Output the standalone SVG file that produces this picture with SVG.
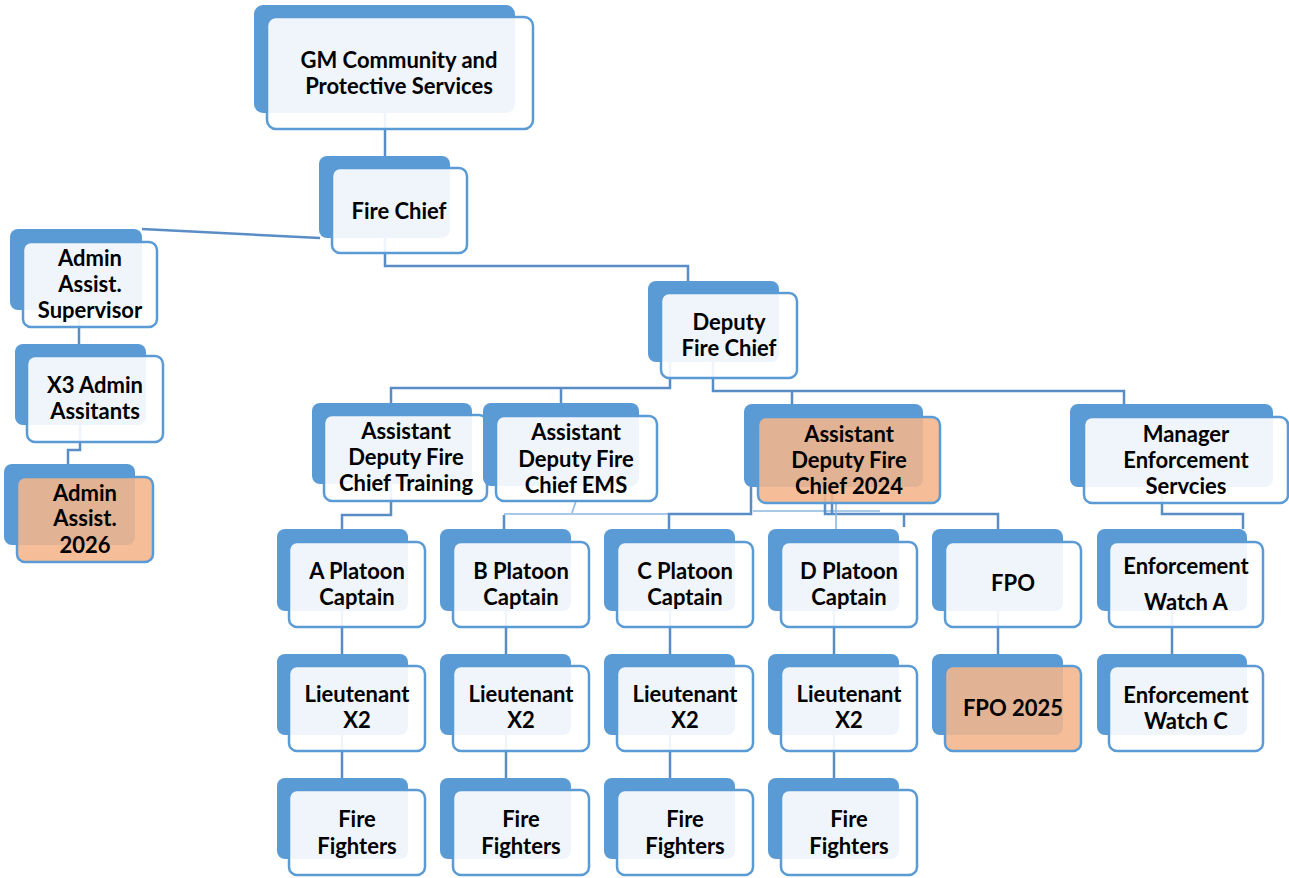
<svg xmlns="http://www.w3.org/2000/svg" width="1289" height="878" viewBox="0 0 1289 878">
<style>
.bk{fill:#5B9BD5}
.fr{fill:#FFFFFF;fill-opacity:0.9;stroke:#5B9BD5;stroke-width:2.5}
.fo{fill:#F4B58A;fill-opacity:0.88;stroke:#5B9BD5;stroke-width:2.5}
.t{font-family:Lato,"Liberation Sans",sans-serif;font-weight:bold;font-size:22px;fill:#000;text-anchor:middle}
.c{fill:none;stroke:#5A8DC6;stroke-width:2.5}
.cl{fill:none;stroke:#8DB7E2;stroke-width:1.6}
</style>
<rect width="1289" height="878" fill="#FFFFFF"/>
<g id="connectors">
<path class="c" d="M385,100 V156"/>
<path class="c" d="M385,230 V266 H688 V281"/>
<path class="c" d="M142,229 L320,238"/>
<path class="c" d="M79,300 V344"/>
<path class="c" d="M80,420 V450 H68 V464"/>
<path class="c" d="M670,350 V388 H391 V403"/>
<path class="c" d="M561,388 V403"/>
<path class="c" d="M713,350 V391 H1124 V404"/>
<path class="c" d="M792,391 V404"/>
<path class="c" d="M391,480 V515 H342 V529"/>
<path class="c" d="M504,515 V529"/>
<path class="cl" d="M504,514 H669"/>
<path class="cl" d="M576,501 L572,513"/>
<path class="cl" d="M753,511 H880"/>
<path class="c" d="M751,480 V514 H669 V529"/>
<path class="c" d="M825,480 V514 H998 V529"/>
<path class="c" d="M832,480 V514"/>
<path class="c" d="M904,514 V527"/>
<path class="cl" d="M836,500 V545"/>
<path class="c" d="M1162,490 V514 H1243 V529"/>
<path class="c" d="M342,600 V654"/>
<path class="c" d="M506,600 V654"/>
<path class="c" d="M670,600 V654"/>
<path class="c" d="M834,600 V654"/>
<path class="c" d="M998,600 V654"/>
<path class="c" d="M1172,600 V654"/>
<path class="c" d="M342,725 V778"/>
<path class="c" d="M506,725 V778"/>
<path class="c" d="M670,725 V778"/>
<path class="c" d="M834,725 V778"/>
</g>
<g id="gm">
<rect class="bk" x="254" y="5" width="261" height="108" rx="9"/>
<rect class="fr" x="267" y="17" width="266" height="112" rx="9"/>
<text class="t" x="399" y="68">GM Community and</text>
<text class="t" x="399" y="94">Protective Services</text>
</g>
<g id="fire-chief">
<rect class="bk" x="319" y="156" width="131" height="82" rx="8"/>
<rect class="fr" x="332" y="168" width="135" height="85" rx="8"/>
<text class="t" x="399" y="219">Fire Chief</text>
</g>
<g id="admin-sup">
<rect class="bk" x="10" y="229" width="132" height="81" rx="8"/>
<rect class="fr" x="23" y="242" width="134" height="85" rx="8"/>
<text class="t" x="90" y="266">Admin</text>
<text class="t" x="90" y="292">Assist.</text>
<text class="t" x="90" y="318">Supervisor</text>
</g>
<g id="x3-admin">
<rect class="bk" x="15" y="344" width="131" height="81" rx="8"/>
<rect class="fr" x="27" y="356" width="136" height="86" rx="8"/>
<text class="t" x="95" y="393">X3 Admin</text>
<text class="t" x="95" y="419">Assitants</text>
</g>
<g id="admin-2026">
<rect class="bk" x="4" y="464" width="131" height="81" rx="8"/>
<rect class="fo" x="17" y="477" width="136" height="85" rx="8"/>
<text class="t" x="85" y="501">Admin</text>
<text class="t" x="85" y="526">Assist.</text>
<text class="t" x="85" y="553">2026</text>
</g>
<g id="deputy">
<rect class="bk" x="648" y="281" width="131" height="81" rx="8"/>
<rect class="fr" x="661" y="293" width="136" height="85" rx="8"/>
<text class="t" x="729" y="330">Deputy</text>
<text class="t" x="729" y="356">Fire Chief</text>
</g>
<g id="adfc-training">
<rect class="bk" x="312" y="403" width="160" height="81" rx="8"/>
<rect class="fr" x="324" y="415" width="163" height="86" rx="8"/>
<text class="t" x="406" y="439">Assistant</text>
<text class="t" x="406" y="465">Deputy Fire</text>
<text class="t" x="406" y="491">Chief Training</text>
</g>
<g id="adfc-ems">
<rect class="bk" x="483" y="403" width="156" height="83" rx="8"/>
<rect class="fr" x="496" y="416" width="161" height="85" rx="8"/>
<text class="t" x="576" y="440">Assistant</text>
<text class="t" x="576" y="467">Deputy Fire</text>
<text class="t" x="576" y="493">Chief EMS</text>
</g>
<g id="adfc-2024">
<rect class="bk" x="744" y="404" width="179" height="83" rx="8"/>
<rect class="fo" x="758" y="417" width="182" height="86" rx="8"/>
<text class="t" x="849" y="442">Assistant</text>
<text class="t" x="849" y="468">Deputy Fire</text>
<text class="t" x="849" y="494">Chief 2024</text>
</g>
<g id="manager-enf">
<rect class="bk" x="1070" y="404" width="203" height="83" rx="8"/>
<rect class="fr" x="1084" y="417" width="204" height="86" rx="8"/>
<text class="t" x="1186" y="442">Manager</text>
<text class="t" x="1186" y="468">Enforcement</text>
<text class="t" x="1186" y="494">Servcies</text>
</g>
<g id="a-captain">
<rect class="bk" x="277" y="529" width="131" height="82" rx="8"/>
<rect class="fr" x="289" y="542" width="136" height="85" rx="8"/>
<text class="t" x="357" y="579">A Platoon</text>
<text class="t" x="357" y="605">Captain</text>
</g>
<g id="b-captain">
<rect class="bk" x="440" y="529" width="131" height="82" rx="8"/>
<rect class="fr" x="453" y="542" width="136" height="85" rx="8"/>
<text class="t" x="521" y="579">B Platoon</text>
<text class="t" x="521" y="605">Captain</text>
</g>
<g id="c-captain">
<rect class="bk" x="604" y="529" width="131" height="82" rx="8"/>
<rect class="fr" x="617" y="542" width="136" height="85" rx="8"/>
<text class="t" x="685" y="579">C Platoon</text>
<text class="t" x="685" y="605">Captain</text>
</g>
<g id="d-captain">
<rect class="bk" x="768" y="529" width="131" height="82" rx="8"/>
<rect class="fr" x="781" y="542" width="136" height="85" rx="8"/>
<text class="t" x="849" y="579">D Platoon</text>
<text class="t" x="849" y="605">Captain</text>
</g>
<g id="fpo">
<rect class="bk" x="932" y="529" width="131" height="82" rx="8"/>
<rect class="fr" x="945" y="542" width="136" height="85" rx="8"/>
<text class="t" x="1013" y="591">FPO</text>
</g>
<g id="enf-watch-a">
<rect class="bk" x="1097" y="529" width="150" height="82" rx="8"/>
<rect class="fr" x="1109" y="542" width="154" height="85" rx="8"/>
<text class="t" x="1186" y="574">Enforcement</text>
<text class="t" x="1186" y="610">Watch A</text>
</g>
<g id="a-lieutenant">
<rect class="bk" x="277" y="654" width="131" height="81" rx="8"/>
<rect class="fr" x="289" y="666" width="136" height="85" rx="8"/>
<text class="t" x="357" y="702">Lieutenant</text>
<text class="t" x="357" y="728">X2</text>
</g>
<g id="b-lieutenant">
<rect class="bk" x="440" y="654" width="131" height="81" rx="8"/>
<rect class="fr" x="453" y="666" width="136" height="85" rx="8"/>
<text class="t" x="521" y="702">Lieutenant</text>
<text class="t" x="521" y="728">X2</text>
</g>
<g id="c-lieutenant">
<rect class="bk" x="604" y="654" width="131" height="81" rx="8"/>
<rect class="fr" x="617" y="666" width="136" height="85" rx="8"/>
<text class="t" x="685" y="702">Lieutenant</text>
<text class="t" x="685" y="728">X2</text>
</g>
<g id="d-lieutenant">
<rect class="bk" x="768" y="654" width="131" height="81" rx="8"/>
<rect class="fr" x="781" y="666" width="136" height="85" rx="8"/>
<text class="t" x="849" y="702">Lieutenant</text>
<text class="t" x="849" y="728">X2</text>
</g>
<g id="fpo-2025">
<rect class="bk" x="932" y="654" width="131" height="81" rx="8"/>
<rect class="fo" x="945" y="666" width="136" height="85" rx="8"/>
<text class="t" x="1013" y="716">FPO 2025</text>
</g>
<g id="enf-watch-c">
<rect class="bk" x="1097" y="654" width="150" height="81" rx="8"/>
<rect class="fr" x="1109" y="666" width="154" height="85" rx="8"/>
<text class="t" x="1186" y="703">Enforcement</text>
<text class="t" x="1186" y="729">Watch C</text>
</g>
<g id="a-firefighters">
<rect class="bk" x="277" y="778" width="131" height="81" rx="8"/>
<rect class="fr" x="289" y="790" width="136" height="85" rx="8"/>
<text class="t" x="357" y="827">Fire</text>
<text class="t" x="357" y="854">Fighters</text>
</g>
<g id="b-firefighters">
<rect class="bk" x="440" y="778" width="131" height="81" rx="8"/>
<rect class="fr" x="453" y="790" width="136" height="85" rx="8"/>
<text class="t" x="521" y="827">Fire</text>
<text class="t" x="521" y="854">Fighters</text>
</g>
<g id="c-firefighters">
<rect class="bk" x="604" y="778" width="131" height="81" rx="8"/>
<rect class="fr" x="617" y="790" width="136" height="85" rx="8"/>
<text class="t" x="685" y="827">Fire</text>
<text class="t" x="685" y="854">Fighters</text>
</g>
<g id="d-firefighters">
<rect class="bk" x="768" y="778" width="131" height="81" rx="8"/>
<rect class="fr" x="781" y="790" width="136" height="85" rx="8"/>
<text class="t" x="849" y="827">Fire</text>
<text class="t" x="849" y="854">Fighters</text>
</g>
</svg>
